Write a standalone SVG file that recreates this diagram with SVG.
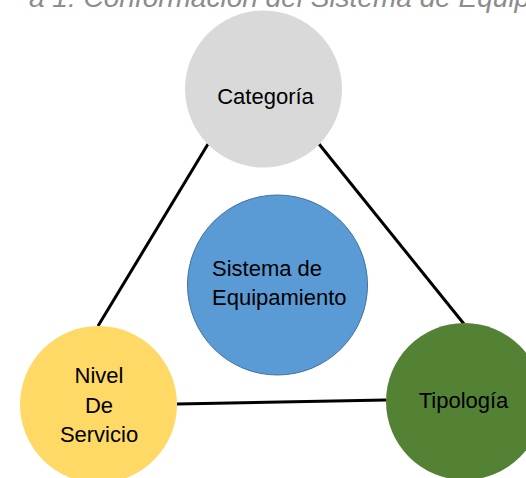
<svg xmlns="http://www.w3.org/2000/svg" width="526" height="478" viewBox="0 0 526 478">
<style>
.lbl{font-family:"Liberation Sans",Arial,sans-serif;font-size:22px;fill:#000}
.edge{stroke:#000;stroke-width:3;fill:none}
.title{font-family:"Liberation Sans",Arial,sans-serif;font-style:italic;font-size:28px;fill:#8c8c8c}
</style>
<rect width="526" height="478" fill="#fff"/>
<text class="title" x="29" y="6.5">a 1: Conformación del Sistema de Equip</text>
<g id="connectors">
<line class="edge" x1="208" y1="144" x2="98" y2="326"/>
<line class="edge" x1="319" y1="144" x2="464" y2="324"/>
<line class="edge" x1="177" y1="404" x2="386" y2="400"/>
</g>
<g id="categoria">
<circle cx="263.5" cy="89" r="78.5" fill="#d9d9d9"/>
<text class="lbl" x="265.5" y="104" text-anchor="middle">Categoría</text>
</g>
<g id="sistema">
<circle cx="277.5" cy="285" r="90" fill="#5b9bd5" stroke="#41719c" stroke-width="1"/>
<text class="lbl" x="212" y="276">Sistema de</text>
<text class="lbl" x="212" y="305">Equipamiento</text>
</g>
<g id="nivel">
<circle cx="98.5" cy="404.5" r="78.5" fill="#ffd966"/>
<text class="lbl" x="99" y="383" text-anchor="middle">Nivel</text>
<text class="lbl" x="99" y="413" text-anchor="middle">De</text>
<text class="lbl" x="99" y="442" text-anchor="middle">Servicio</text>
</g>
<g id="tipologia">
<circle cx="464.5" cy="401.5" r="78.5" fill="#548235"/>
<text class="lbl" x="463.5" y="408" text-anchor="middle">Tipología</text>
</g>
</svg>
